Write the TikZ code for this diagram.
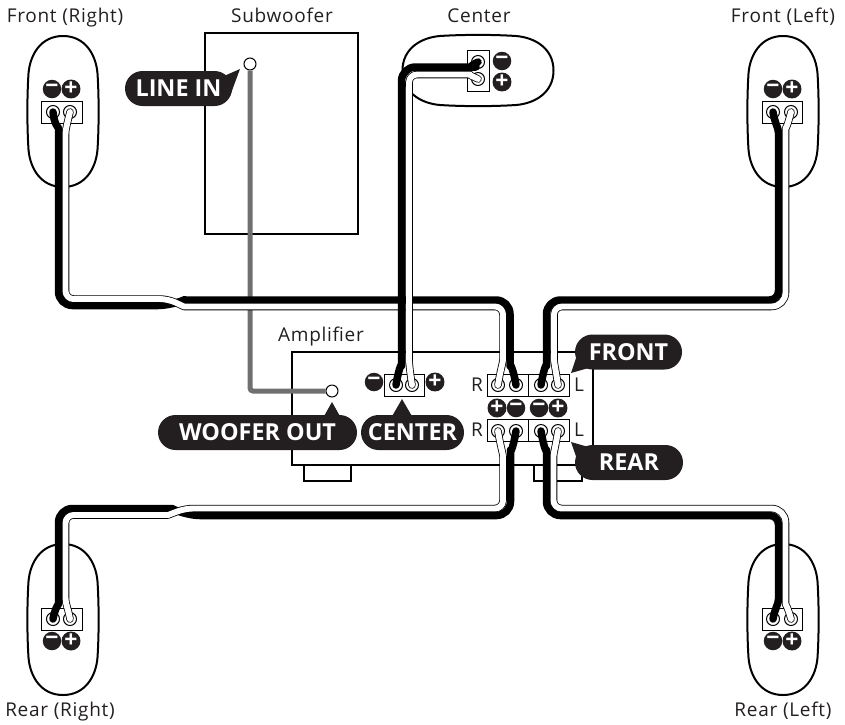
\documentclass[tikz,border=0pt]{standalone}
\usepackage{fontspec}
\setmainfont{Open Sans}
\usetikzlibrary{shapes.misc}
\definecolor{ink}{HTML}{231F20}
\definecolor{woofergray}{HTML}{707070}
\tikzset{
	speaker/.pic={
		\draw [line width=2pt,fill=white] (0,-75.5) .. controls (-22,-75.5) and (-33,-57) .. (-34.5,-38)
			.. controls (-36,-15) and (-36,15) .. (-34.5,38)
			.. controls (-33,57) and (-22,75.5) .. (0,75.5)
			.. controls (22,75.5) and (33,57) .. (34.5,38)
			.. controls (36,15) and (36,-15) .. (34.5,-38)
			.. controls (33,-57) and (22,-75.5) .. (0,-75.5) -- cycle;
	}
}
\begin{document}
\begin{tikzpicture}[x=1pt,y=-1pt,
		label/.style={font=\fontsize{19}{22}\selectfont\addfontfeatures{LetterSpace=3.8},text=ink,inner sep=0pt},
		housing/.style={rectangle,draw,line width=2pt,fill=white,inner sep=0pt},
		termbox/.style={rectangle,draw,line width=0.8pt,fill=white,inner sep=0pt},
		terminal/.style={circle,draw,line width=1pt,fill=white,minimum size=13pt,inner sep=0pt},
		jack/.style={circle,draw,line width=1pt,fill=white,minimum size=12pt,inner sep=0pt},
		badge/.style={circle,fill=ink,text=white,minimum size=18.5pt,inner sep=0pt,font=\bfseries\fontsize{23}{23}\selectfont},
		bubble/.style={rounded rectangle,fill=ink,text=white,minimum height=35pt,inner sep=0pt,font=\bfseries\fontsize{23.4}{24}\selectfont},
		blackwire/.style={line width=7.5pt,line cap=round,line join=round,draw=black},
		whitewire/.style={draw=black,double=white,line width=0.8pt,double distance=5.9pt,line cap=round,line join=round},
		graywire/.style={line width=5pt,draw=woofergray}]
	\useasboundingbox (0,0) rectangle (845,724);
	\node [label,anchor=base] (frontrlabel) at (65,22) {Front (Right)};
	\node [label,anchor=base] (subwooferlabel) at (282,22) {Subwoofer};
	\node [label,anchor=base] (centerlabel) at (479,22) {Center};
	\node [label,anchor=base] (frontllabel) at (783,22) {Front (Left)};
	\node [label,anchor=base] (amplabel) at (321,341) {Amplifier};
	\node [label,anchor=base] (rearrlabel) at (60,716) {Rear (Right)};
	\node [label,anchor=base] (rearllabel) at (783,716) {Rear (Left)};
	\pic at (63,111.5) {speaker};
	\pic at (783,111.5) {speaker};
	\pic at (63,619.5) {speaker};
	\pic at (783,619.5) {speaker};
	\pic [rotate=90] at (478,70.5) {speaker};
	\node [housing,minimum width=153pt,minimum height=201pt] (subwoofer) at (281.5,133) {};
	\node [housing,minimum width=47pt,minimum height=16pt] (footl) at (327.5,473) {};
	\node [housing,minimum width=48pt,minimum height=16pt] (footr) at (558,473) {};
	\node [housing,minimum width=301pt,minimum height=113pt] (amp) at (442.5,408.5) {};
	\node [termbox,minimum width=40.5pt,minimum height=22pt] (frboxs) at (62,112) {};
	\node [termbox,minimum width=40.5pt,minimum height=22pt] (flboxs) at (782.5,112) {};
	\node [termbox,minimum width=40.5pt,minimum height=22pt] (rrboxs) at (62,619.5) {};
	\node [termbox,minimum width=40.5pt,minimum height=22pt] (rlboxs) at (782.5,619.5) {};
	\node [termbox,minimum width=22pt,minimum height=41pt] (cboxs) at (478,70.5) {};
	\node [termbox,minimum width=40pt,minimum height=22pt] (cboxa) at (404,385) {};
	\node [termbox,minimum width=41pt,minimum height=22pt] (frboxa) at (507.5,385) {};
	\node [termbox,minimum width=41pt,minimum height=22pt] (flboxa) at (548.5,385) {};
	\node [termbox,minimum width=41pt,minimum height=22pt] (rrboxa) at (507.5,430) {};
	\node [termbox,minimum width=41pt,minimum height=22pt] (rlboxa) at (548.5,430) {};
	\node [terminal] (frneg) at (53,112) {};
	\node [terminal] (frpos) at (70,112) {};
	\node [terminal] (flneg) at (773,112) {};
	\node [terminal] (flpos) at (791,112) {};
	\node [terminal] (rrneg) at (53,619) {};
	\node [terminal] (rrpos) at (70,619) {};
	\node [terminal] (rlneg) at (773,619) {};
	\node [terminal] (rlpos) at (791,619) {};
	\node [terminal] (cneg) at (478,62) {};
	\node [terminal] (cpos) at (478,79) {};
	\node [terminal] (acneg) at (396,385) {};
	\node [terminal] (acpos) at (412,385) {};
	\node [terminal] (afrpos) at (498,385) {};
	\node [terminal] (afrneg) at (516,385) {};
	\node [terminal] (aflneg) at (541,385) {};
	\node [terminal] (aflpos) at (558,385) {};
	\node [terminal] (arrpos) at (498,431) {};
	\node [terminal] (arrneg) at (516,431) {};
	\node [terminal] (arlneg) at (541,431) {};
	\node [terminal] (arlpos) at (558,431) {};
	\node [jack] (linein) at (250,64) {};
	\node [jack] (wooferout) at (332,391) {};
	\path [graywire,rounded corners=3pt] (linein.south) |- (wooferout.west);
	\draw [blackwire,rounded corners=14pt] (frneg.center) .. controls (54,124) and (58.5,128) .. (58.5,142) -- (58.5,305.5) -- (172,305.5) [sharp corners] -- (184,300) [rounded corners=14pt] -- (510,300) -- (510,352) .. controls (510,362) and (514,372) .. (afrneg.center);
	\draw [whitewire,rounded corners=8pt] (frpos.center) .. controls (67,124) and (65.5,130) .. (65.5,142) -- (65.5,299) -- (168,299) [sharp corners] -- (184,306.5) [rounded corners=8pt] -- (503,306.5) -- (503,352) .. controls (503,362) and (500,372) .. (afrpos.center);
	\draw [blackwire,rounded corners=14pt] (aflneg.center) .. controls (543,372) and (546.5,362) .. (546.5,352) -- (546.5,300) [rounded corners=9pt] -- (778.5,300) -- (778.5,142) .. controls (778.5,128) and (775,124) .. (flneg.center);
	\draw [whitewire,rounded corners=8pt] (aflpos.center) .. controls (556,372) and (554,362) .. (554,352) -- (554,306.5) [rounded corners=14pt] -- (785.5,306.5) -- (785.5,142) .. controls (785.5,130) and (788,124) .. (flpos.center);
	\draw [blackwire,rounded corners=14pt] (acneg.center) .. controls (398,372) and (401.5,362) .. (401.5,352) -- (401.5,67) -- (462,67) .. controls (468,67) and (472,65) .. (cneg.center);
	\draw [whitewire,rounded corners=8pt] (acpos.center) .. controls (410,372) and (409,362) .. (409,352) -- (409,74.5) -- (462,74.5) .. controls (468,74.5) and (472,76) .. (cpos.center);
	\draw [blackwire,rounded corners=14pt] (arlneg.center) .. controls (543,444) and (546.5,454) .. (546.5,464) -- (546.5,515.5) [rounded corners=9pt] -- (778.5,515.5) -- (778.5,590) .. controls (778.5,604) and (775,608) .. (rlneg.center);
	\draw [whitewire,rounded corners=8pt] (arlpos.center) .. controls (556,444) and (553.5,454) .. (553.5,464) -- (553.5,508.5) [rounded corners=14pt] -- (785.5,508.5) -- (785.5,590) .. controls (785.5,604) and (788,608) .. (rlpos.center);
	\draw [blackwire,rounded corners=14pt] (arrneg.center) .. controls (514,444) and (510.5,454) .. (510.5,464) -- (510.5,515.5) -- (186,515.5) [sharp corners] -- (172,508.5) [rounded corners=14pt] -- (58.5,508.5) -- (58.5,590) .. controls (58.5,604) and (55,608) .. (rrneg.center);
	\draw [whitewire,rounded corners=8pt] (arrpos.center) .. controls (500,444) and (503,454) .. (503,464) -- (503,508.5) -- (185,508.5) [sharp corners] -- (168,515) [rounded corners=8pt] -- (65.5,515) -- (65.5,590) .. controls (65.5,604) and (68,608) .. (rrpos.center);
	\node [badge] (frminus) at (52,89) {−};
	\node [badge] (frplus) at (71,89) {+};
	\node [badge] (flminus) at (773,89) {−};
	\node [badge] (flplus) at (792,89) {+};
	\node [badge] (rrminus) at (52,641) {−};
	\node [badge] (rrplus) at (71,641) {+};
	\node [badge] (rlminus) at (773,641) {−};
	\node [badge] (rlplus) at (792,641) {+};
	\node [badge] (cminus) at (502,61) {−};
	\node [badge] (cplus) at (502,82) {+};
	\node [badge] (acminus) at (374,382) {−};
	\node [badge] (acplus) at (435,382) {+};
	\node [badge] (arplus) at (497,408) {+};
	\node [badge] (arminus) at (516,408) {−};
	\node [badge] (alminus) at (539,408) {−};
	\node [badge] (alplus) at (558,408) {+};
	\node [label] (rtop) at (477,385) {R};
	\node [label] (rbot) at (477,430) {R};
	\node [label] (ltop) at (579,385) {L};
	\node [label] (lbot) at (579,430) {L};
	\node [bubble,minimum width=107pt] (lineintag) at (178.5,88.5) {LINE IN};
	\node [bubble,minimum width=199pt] (woofertag) at (257.5,432.5) {WOOFER OUT};
	\node [bubble,minimum width=103pt] (centertag) at (412.5,432.5) {CENTER};
	\node [bubble,minimum width=107pt] (fronttag) at (628.5,352) {FRONT};
	\node [bubble,minimum width=108pt] (reartag) at (629,462.5) {REAR};
	\coordinate (lineintip) at (240,69);
	\coordinate (woofertip) at (332,402);
	\coordinate (centertip) at (402,399);
	\coordinate (fronttip) at (571,373);
	\coordinate (reartip) at (571,442);
	\fill [ink] (lineintip) -- (224,76) -- (230,96) -- cycle;
	\fill [ink] (woofertip) -- (323,418) -- (341,418) -- cycle;
	\fill [ink] (centertip) -- (391,418) -- (413,418) -- cycle;
	\fill [ink] (fronttip) -- (578,352) -- (592,367) -- cycle;
	\fill [ink] (reartip) -- (592,448) -- (578,462) -- cycle;
\end{tikzpicture}
\end{document}
